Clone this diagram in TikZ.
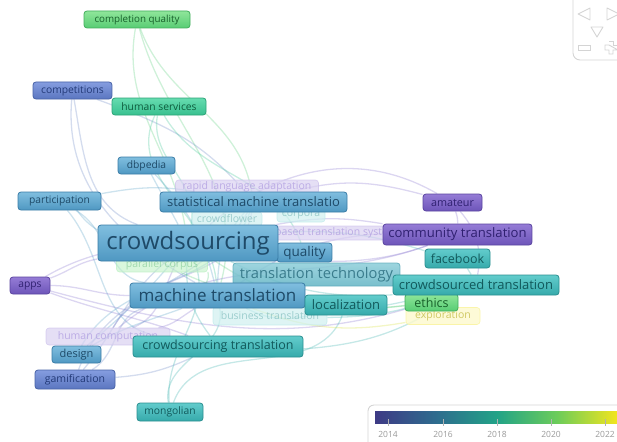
\documentclass[tikz,border=0pt]{standalone}
\usepackage{fontspec}
\setmainfont{Open Sans}
\definecolor{skyT}{HTML}{80BEDF}\definecolor{skyB}{HTML}{4F98C2}\definecolor{skyD}{HTML}{3A7CA6}\definecolor{skyX}{HTML}{1E4A68}
\definecolor{purT}{HTML}{957CD6}\definecolor{purB}{HTML}{6D55B9}\definecolor{purD}{HTML}{5A44A0}\definecolor{purX}{HTML}{2F2070}
\definecolor{bluT}{HTML}{859DE0}\definecolor{bluB}{HTML}{5B76C0}\definecolor{bluD}{HTML}{4862A6}\definecolor{bluX}{HTML}{233A78}
\definecolor{teaT}{HTML}{62CCCC}\definecolor{teaB}{HTML}{36AAAB}\definecolor{teaD}{HTML}{2A8F90}\definecolor{teaX}{HTML}{11595B}
\definecolor{gtlT}{HTML}{66DCB0}\definecolor{gtlB}{HTML}{38C08F}\definecolor{gtlD}{HTML}{2CA377}\definecolor{gtlX}{HTML}{0E5C3D}
\definecolor{grnT}{HTML}{8FE69A}\definecolor{grnB}{HTML}{58CC74}\definecolor{grnD}{HTML}{42AD5C}\definecolor{grnX}{HTML}{17602A}
\definecolor{ttT}{HTML}{8CCDD9}\definecolor{ttB}{HTML}{62B4C4}\definecolor{ttD}{HTML}{5AA9B8}\definecolor{ttX}{HTML}{2C6F80}
\definecolor{cPu}{HTML}{8A78D0}\definecolor{cBl}{HTML}{6F8CC8}\definecolor{cSk}{HTML}{5AA2C8}
\definecolor{cTe}{HTML}{40B4B0}\definecolor{cGt}{HTML}{45C89A}\definecolor{cGr}{HTML}{60D080}\definecolor{cYe}{HTML}{D8E040}
\definecolor{v0}{HTML}{3E3A85}\definecolor{v1}{HTML}{2E6C8E}\definecolor{v2}{HTML}{22A387}\definecolor{v3}{HTML}{6CCC5A}\definecolor{v4}{HTML}{F2E51E}
\definecolor{uiG}{HTML}{D4D4D4}
\tikzset{
  kw/.style={draw, rounded corners=3pt, line width=0.8pt, inner sep=0pt, align=center},
  fs/.style={font=\fontsize{#1}{#1}\selectfont},
  sz/.style 2 args={minimum width=#1, minimum height=#2},
  sky/.style={kw, top color=skyT, bottom color=skyB, draw=skyD, text=skyX},
  pur/.style={kw, top color=purT, bottom color=purB, draw=purD, text=purX},
  blu/.style={kw, top color=bluT, bottom color=bluB, draw=bluD, text=bluX},
  tea/.style={kw, top color=teaT, bottom color=teaB, draw=teaD, text=teaX},
  gtl/.style={kw, top color=gtlT, bottom color=gtlB, draw=gtlD, text=gtlX},
  grn/.style={kw, top color=grnT, bottom color=grnB, draw=grnD, text=grnX},
  ttn/.style={kw, top color=ttT, bottom color=ttB, draw=ttD, text=ttX, opacity=0.85},
  fpur/.style={kw, fill=purT!35, draw=purT!50, text=purT!80, line width=0.6pt, opacity=0.7},
  ftea/.style={kw, fill=teaT!30, draw=teaT!45, text=teaD!60, line width=0.6pt, opacity=0.7},
  fgrn/.style={kw, fill=grnT!55, draw=grnT!70, text=grnD!70, line width=0.6pt, opacity=0.6},
  fyel/.style={kw, fill=v4!22, draw=v4!45, text=v4!60!gray, line width=0.6pt, opacity=0.8},
  ln/.style={line width=1.3pt, opacity=0.3},
  ui/.style={draw=uiG, line width=0.9pt},
  yr/.style={font=\fontsize{8.5}{8.5}\selectfont, text=gray!80},
}
\begin{document}
\begin{tikzpicture}[x=1pt,y=-1pt]
\useasboundingbox (0,0) rectangle (617,441);
% --- anchor nodes for the connectors (invisible)
\begin{scope}[opacity=0]
\node[kw, sz={106}{17}] (cq) at (137,19.5) {};
\node[kw, sz={79}{17}] (comp) at (72.5,90.5) {};
\node[kw, sz={94}{17}] (hs) at (159,106.5) {};
\node[kw, sz={57}{17}] (dbp) at (146.5,165.5) {};
\node[kw, sz={83}{18}] (part) at (59.5,201) {};
\node[kw, sz={187}{20}] (smt) at (253.5,202) {};
\node[kw, sz={180}{36}] (cs) at (188,243) {};
\node[kw, sz={55}{19}] (qual) at (304.5,252.5) {};
\node[kw, sz={149}{21}] (comt) at (457.5,234.5) {};
\node[kw, sz={59}{17}] (amat) at (452.5,202.5) {};
\node[kw, sz={65}{19}] (fb) at (457.5,258.5) {};
\node[kw, sz={166}{20}] (cst) at (476,285) {};
\node[kw, sz={175}{25}] (mt) at (217.5,295.5) {};
\node[kw, sz={82}{20}] (loc) at (346,305) {};
\node[kw, sz={53}{17}] (eth) at (431.5,302.5) {};
\node[kw, sz={74}{17}] (expl) at (443,316) {};
\node[kw, sz={40}{17}] (apps) at (30,285.5) {};
\node[kw, sz={124}{17}] (hc) at (108,336.5) {};
\node[kw, sz={49}{17}] (des) at (76.5,354.5) {};
\node[kw, sz={170}{21}] (cstr) at (218,346.5) {};
\node[kw, sz={80}{19}] (gam) at (75,379.5) {};
\node[kw, sz={66}{18}] (mong) at (170,412) {};
\node[kw, sz={91}{15}] (pc) at (162,264.5) {};
\node[kw, sz={114}{18}] (bt) at (270,316) {};
\end{scope}
% --- edges
\draw[ln,cGr] (cq) to[out=-100,in=100] (cs);
\draw[ln,cGr] (cq) to[out=-70,in=100] (smt);
\draw[ln,cGr] (cq) to[out=-75,in=75] (mt);
\draw[ln,cBl] (comp) to[out=-80,in=160] (cs);
\draw[ln,cBl] (comp) to[out=-20,in=130] (smt);
\draw[ln,cBl] (comp) to[out=-95,in=150] (mt);
\draw[ln,cGt] (hs) to[out=-100,in=80] (cs);
\draw[ln,cGt] (hs) to[out=-60,in=110] (qual);
\draw[ln,cGt] (hs) to[out=-115,in=95] (mt);
\draw[ln,cSk] (dbp) -- (cs);
\draw[ln,cSk] (dbp) to[bend left=15] (mt);
\draw[ln,cSk] (part) to[bend right=10] (cs);
\draw[ln,cSk] (part) to[out=-30,in=170] (mt);
\draw[ln,cSk] (part) to[out=-50,in=170] (cstr);
\draw[ln,cPu] (apps) to[out=20,in=190] (cs);
\draw[ln,cPu] (apps) to[out=0,in=180] (mt);
\draw[ln,cPu] (apps) to[out=-15,in=200] (cst);
\draw[ln,cPu] (apps) to[out=30,in=200] (comt);
\draw[ln,cPu] (apps) to[out=-20,in=160] (cstr);
\draw[ln,cPu] (hc) to[out=20,in=-120] (cs);
\draw[ln,cPu] (hc) to[out=10,in=-150] (mt);
\draw[ln,cPu] (hc) to[out=40,in=-160] (comt);
\draw[ln,cPu] (hc) to[out=60,in=-100] (smt);
\draw[ln,cSk] (des) to[out=40,in=-130] (cs);
\draw[ln,cSk] (des) to[out=30,in=-160] (mt);
\draw[ln,cSk] (des) to[out=60,in=-110] (smt);
\draw[ln,cBl] (gam) to[out=50,in=-140] (cs);
\draw[ln,cBl] (gam) to[out=30,in=-170] (mt);
\draw[ln,cBl] (gam) to[bend right=10] (cstr);
\draw[ln,cBl] (gam) to[out=70,in=-120] (smt);
\draw[ln,cTe] (mong) to[out=100,in=-80] (mt);
\draw[ln,cTe] (mong) to[out=95,in=-70] (cs);
\draw[ln,cTe] (mong) to[out=70,in=-110] (loc);
\draw[ln,cPu] (cs) to[out=40,in=150] (amat);
\draw[ln,cPu] (smt) to[out=15,in=165] (amat);
\draw[ln,cPu] (cs) to[bend left=10] (comt);
\draw[ln,cTe] (cs) to[bend right=15] (cst);
\draw[ln,cTe] (cs) to[bend left=10] (fb);
\draw[ln,cGr] (cs) to[bend right=20] (eth);
\draw[ln,cTe] (mt) to[bend right=10] (cst);
\draw[ln,cTe] (mt) to[bend right=20] (loc);
\draw[ln,cYe] (mt) to[bend right=15] (expl);
\draw[ln,cPu] (mt) to[bend left=15] (comt);
\draw[ln,cPu] (amat) to[bend left=10] (comt);
\draw[ln,cPu] (amat) to[bend left=25] (cst);
\draw[ln,cTe] (fb) to[bend left=10] (cst);
\draw[ln,cSk] (smt) to[bend right=20] (mt);
\draw[ln,cTe] (cstr) to[bend right=15] (cst);
\draw[ln,cTe] (cstr) to[bend left=20] (cs);
\draw[ln,cGr] (pc) to[bend right=15] (eth);
\draw[ln,cGr] (pc) to[bend left=20] (mt);
\draw[ln,cTe] (bt) to[bend right=10] (cst);
\draw[ln,cSk] (part) to[out=10,in=170] (smt);
% --- faded nodes
\node[fpur, fs=10.5, sz={143}{14}] (rla) at (247,187) {rapid language adaptation};
\node[ftea, fs=10.5, sz={70}{14}] (cfl) at (227,219) {crowdflower};
\node[ftea, fs=10.5, sz={48}{14}] (corp) at (301,215) {corpora};
\node[fpur, fs=10.5, sz={156}{14}] (cbts) at (318,233) {corpus-based translation system};
\node[fgrn, fs=10.5, sz={91}{15}] (pcv) at (pc) {parallel corpus};
\node[fpur, fs=10.5, sz={124}{17}] (hcv) at (hc) {human computation};
\node[ftea, fs=10.5, sz={114}{18}] (btv) at (bt) {business translation};
\node[fyel, fs=10.5, sz={74}{17}] (explv) at (expl) {exploration};
% --- main nodes
\node[grn, fs=9.8, sz={106}{17}] (cqv) at (cq) {completion quality};
\node[blu, fs=10.3, sz={79}{17}] (compv) at (comp) {competitions};
\node[gtl, fs=10.3, sz={94}{17}] (hsv) at (hs) {human services};
\node[sky, fs=10.3, sz={57}{17}] (dbpv) at (dbp) {dbpedia};
\node[sky, fs=10.3, sz={83}{18}] (partv) at (part) {participation};
\node[sky, fs=13, sz={187}{20}] (smtv) at (smt) {statistical machine translatio};
\node[sky, fs=13.5, sz={55}{19}] (qualv) at (qual) {quality};
\node[sky, fs=24, sz={180}{36}] (csv) at (cs) {crowdsourcing};
\node[ttn, fs=14.7, sz={167}{23}] (tt) at (316.5,274.5) {translation technology};
\node[pur, fs=10.8, sz={59}{17}] (amatv) at (amat) {amateur};
\node[pur, fs=13.1, sz={149}{21}] (comtv) at (comt) {community translation};
\node[tea, fs=12.5, sz={65}{19}] (fbv) at (fb) {facebook};
\node[grn, fs=12.5, sz={53}{17}] (ethv) at (eth) {ethics};
\node[tea, fs=13, sz={166}{20}] (cstv) at (cst) {crowdsourced translation};
\node[sky, fs=17, sz={175}{25}] (mtv) at (mt) {machine translation};
\node[tea, fs=13, sz={82}{20}] (locv) at (loc) {localization};
\node[pur, fs=10.3, sz={40}{17}] (appsv) at (apps) {apps};
\node[sky, fs=11, sz={49}{17}] (desv) at (des) {design};
\node[tea, fs=12.5, sz={170}{21}] (cstrv) at (cstr) {crowdsourcing translation};
\node[blu, fs=10.5, sz={80}{19}] (gamv) at (gam) {gamification};
\node[tea, fs=10.3, sz={66}{18}] (mongv) at (mong) {mongolian};
% --- navigation widget
\draw[ui, rounded corners=7pt] (573,-3) -- (573,60) -- (622,60);
\draw[ui, line join=round] (590,8) -- (578,14) -- (590,20) -- cycle;
\draw[ui, line join=round] (607,8) -- (619,14) -- (607,20) -- cycle;
\draw[ui, line join=round] (591,27) -- (603,27) -- (597,37) -- cycle;
\draw[ui] (578,45) rectangle (590,50);
\draw[ui] (609,41) -- (613,41) -- (613,45) -- (618,45);
\draw[ui] (618,50) -- (613,50) -- (613,54) -- (609,54) -- (609,50) -- (605,50) -- (605,45) -- (609,45) -- cycle;
% --- colour bar
\draw[ui, rounded corners=6pt] (368,448) -- (368,405) -- (625,405);
\shade[left color=v0, right color=v1] (375,411) rectangle (436,423);
\shade[left color=v1, right color=v2] (436,411) rectangle (497,423);
\shade[left color=v2, right color=v3] (497,411) rectangle (557,423);
\shade[left color=v3, right color=v4] (557,411) rectangle (617,423);
\foreach \xx/\yy in {388/2014,443/2016,497/2018,551/2020,605/2022}{
  \draw[gray!60, line width=0.6pt] (\xx,419) -- (\xx,426);
  \node[yr] at (\xx,434.5) {\yy};
}
\end{tikzpicture}
\end{document}
